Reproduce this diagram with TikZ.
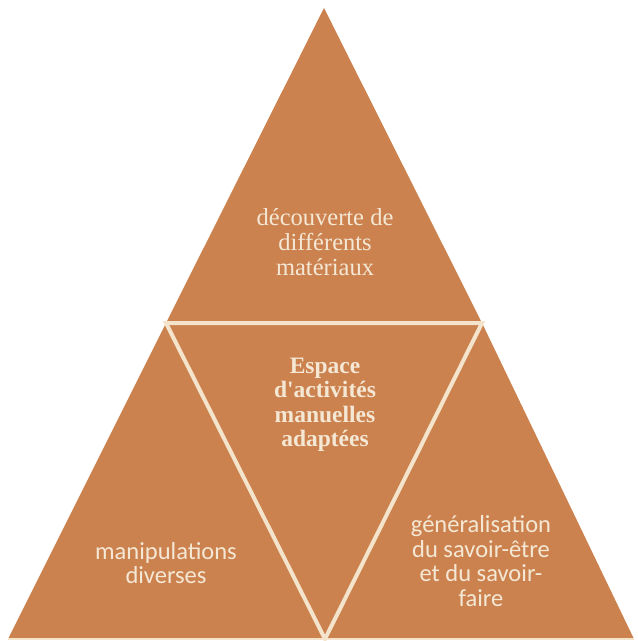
\documentclass[tikz,border=0pt]{standalone}
\usepackage{fontspec}
\setmainfont{Liberation Serif}
\newfontfamily\carl{Carlito}
\definecolor{terra}{HTML}{CC824F}
\definecolor{creamline}{HTML}{F3E4CB}
\definecolor{creamtext}{HTML}{F4E8D5}
\begin{document}
\begin{tikzpicture}[x=1pt,y=-1pt,
  lbl/.style={text=creamtext, align=center, inner sep=0pt},
  serifl/.style={lbl, font=\fontsize{24.5}{25}\selectfont},
  boldl/.style={lbl, font=\fontsize{23.5}{24.5}\selectfont\bfseries},
  sansl/.style={lbl, font=\carl\fontsize{24.5}{24.5}\selectfont},
  sep/.style={draw=creamline, line width=4pt, line join=miter}]
\useasboundingbox (0,0) rectangle (638,641);
\fill[white] (0,0) rectangle (638,641);
\coordinate (A) at (324,8);
\coordinate (L) at (8,639);
\coordinate (R) at (634,639);
\coordinate (ML) at (166,323);
\coordinate (MR) at (482,323);
\coordinate (MB) at (325,639);
\fill[terra] (A) -- (MR) -- (R) -- (L) -- (ML) -- cycle;
\draw[sep] (ML) -- (MR) -- (MB) -- cycle;
\draw[creamline, line width=1.5pt] (L) -- (R);
\node[serifl] (top) at (325,242) {découverte de\\différents\\matériaux};
\node[boldl] (mid) at (325,405) {Espace\\d\textquotesingle activités\\manuelles\\adaptées};
\node[sansl] (left) at (166,563) {manipulations\\diverses};
\node[sansl] (right) at (481,561) {généralisation\\du savoir-être\\et du savoir-\\faire};
\end{tikzpicture}
\end{document}
